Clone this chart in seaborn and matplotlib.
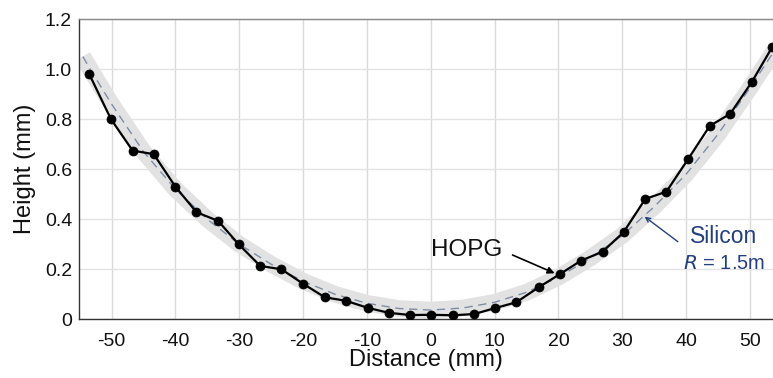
import numpy as np
import pandas as pd
import matplotlib
matplotlib.use("Agg")
import matplotlib.pyplot as plt
import seaborn as sns

# HOPG surface profile (measured points)
hopg_x = [-53.5, -50.1, -46.7, -43.4, -40.0, -36.7, -33.3, -30.1, -26.7, -23.4,
          -20.0, -16.6, -13.3, -9.9, -6.6, -3.2, 0.1, 3.5, 6.8, 10.1,
          13.4, 16.9, 20.2, 23.5, 26.9, 30.2, 33.6, 36.9, 40.3, 43.7,
          46.9, 50.3, 53.5]
hopg_y = [0.98, 0.80, 0.674, 0.66, 0.53, 0.428, 0.393, 0.30, 0.213, 0.20,
          0.142, 0.088, 0.074, 0.046, 0.026, 0.017, 0.018, 0.016, 0.021, 0.045,
          0.068, 0.128, 0.18, 0.234, 0.27, 0.348, 0.481, 0.51, 0.64, 0.773,
          0.821, 0.949, 1.089]

# Silicon reference curve (R = 1.5 m)
si_x = [-54.5, -53, -50, -45, -40, -35, -30, -25, -20, -15, -10, -5, 0,
        5, 10, 15, 20, 25, 30, 35, 40, 45, 50, 54.5]
si_y = [1.05, 0.985, 0.86, 0.67, 0.52, 0.40, 0.30, 0.22, 0.152, 0.10, 0.064, 0.043, 0.037,
        0.045, 0.068, 0.108, 0.168, 0.245, 0.335, 0.45, 0.58, 0.74, 0.925, 1.10]

x_ticks = [-50, -40, -30, -20, -10, 0, 10, 20, 30, 40, 50]
y_ticks = [0, 0.2, 0.4, 0.6, 0.8, 1.0, 1.2]
y_tick_labels = ["0", "0.2", "0.4", "0.6", "0.8", "1.0", "1.2"]

sns.set_theme(style="whitegrid")
plt.rcParams["font.family"] = ["Liberation Sans", "DejaVu Sans"]
plt.rcParams["axes.unicode_minus"] = False

fig = plt.figure(figsize=(7.73, 3.78), dpi=100)
ax = fig.add_axes([0.1022, 0.1553, 0.8978, 0.7944])

df_hopg = pd.DataFrame({"x": hopg_x, "y": hopg_y})
df_si = pd.DataFrame({"x": si_x, "y": si_y})

# light band around the silicon curve
sns.lineplot(data=df_si, x="x", y="y", ax=ax, color="#e2e2e2", linewidth=12,
             sort=False, solid_capstyle="butt", solid_joinstyle="round", zorder=2)
sns.lineplot(data=df_si, x="x", y="y", ax=ax, color="#7f8ca3", linewidth=1.0,
             sort=False, zorder=3, linestyle=(0, (6, 4)))
sns.lineplot(data=df_hopg, x="x", y="y", ax=ax, color="black", linewidth=1.6,
             sort=False, marker="o", markersize=6.5, markeredgecolor="black",
             markeredgewidth=0.5, zorder=4)

ax.set_xlim(-55.1, 53.6)
ax.set_ylim(0, 1.2)
ax.set_xticks(x_ticks)
ax.set_yticks(y_ticks)
ax.set_yticklabels(y_tick_labels)
ax.tick_params(axis="both", length=0, labelsize=14, colors="#111111")
ax.tick_params(axis="x", pad=10)
ax.tick_params(axis="y", pad=5)
ax.set_xlabel("Distance (mm)", fontsize=17, labelpad=-1, color="#111111")
ax.set_ylabel("Height (mm)", fontsize=17, labelpad=6, color="#111111")

ax.grid(True, color="#e3e3e3", linewidth=1.0)
ax.xaxis.grid(True, color="#dadada", linewidth=1.0)
ax.set_axisbelow(True)
for side in ["left", "bottom"]:
    ax.spines[side].set_color("#333333")
    ax.spines[side].set_linewidth(1.0)
ax.spines["top"].set_color("#888888")
ax.spines["top"].set_linewidth(1.0)
ax.spines["right"].set_visible(False)

# annotations
ax.text(5.6, 0.277, "HOPG", fontsize=17.5, ha="center", va="center", color="#111111")
ax.annotate("", xy=(19.4, 0.184), xytext=(12.8, 0.257),
            arrowprops=dict(arrowstyle="-|>", color="black", lw=1.2,
                            mutation_scale=10, shrinkA=0, shrinkB=0))

navy = "#24407a"
ax.text(45.9, 0.33, "Silicon", fontsize=16.5, ha="center", va="center", color=navy)
ax.text(46.0, 0.224, r"$\mathit{R}$ = 1.5m", fontsize=14.5, ha="center", va="center",
        color=navy)
ax.annotate("", xy=(33.5, 0.41), xytext=(38.7, 0.31),
            arrowprops=dict(arrowstyle="->", color=navy, lw=1.0,
                            mutation_scale=8, shrinkA=0, shrinkB=0))

fig.savefig("out.png", dpi=100)
